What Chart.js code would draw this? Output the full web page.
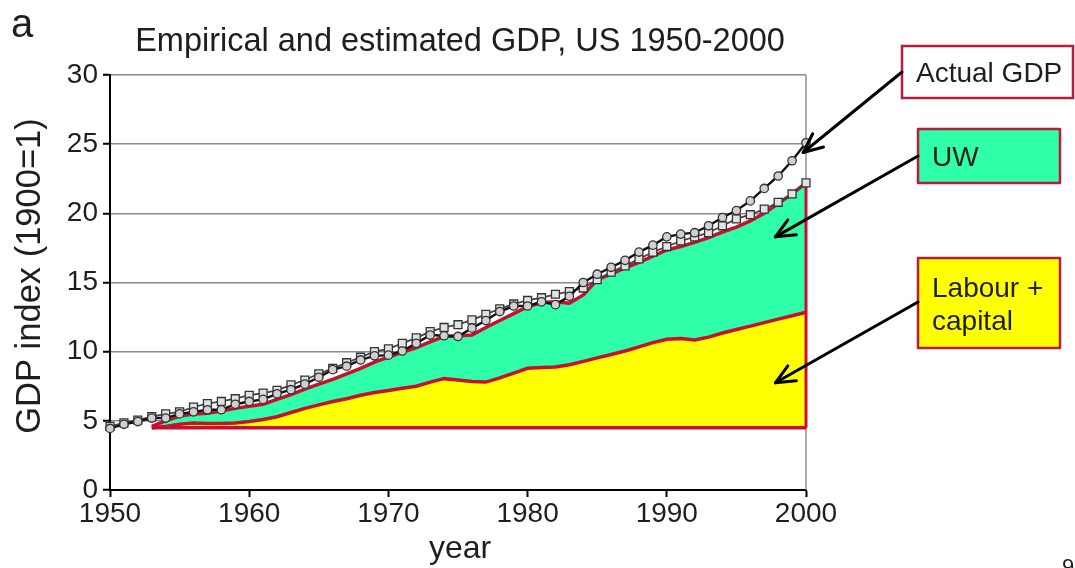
<!DOCTYPE html>
<html>
<head>
<meta charset="utf-8">
<title>Empirical and estimated GDP, US 1950-2000</title>
<script src="https://cdn.jsdelivr.net/npm/chart.js@4/dist/chart.umd.min.js"></script>
<style>
  html, body { margin: 0; padding: 0; background: #fff; }
  canvas { display: block; }
</style>
</head>
<body>
<canvas id="gdp" width="1075" height="568"></canvas>
<script>
// ---- data -------------------------------------------------------------
const years = [1950,1951,1952,1953,1954,1955,1956,1957,1958,1959,
               1960,1961,1962,1963,1964,1965,1966,1967,1968,1969,
               1970,1971,1972,1973,1974,1975,1976,1977,1978,1979,
               1980,1981,1982,1983,1984,1985,1986,1987,1988,1989,
               1990,1991,1992,1993,1994,1995,1996,1997,1998,1999,2000];

// Actual GDP index (1900 = 1)
const actualGdp = [4.45,4.75,4.95,5.2,5.2,5.5,5.65,5.8,5.8,6.2,
                   6.4,6.55,6.95,7.25,7.65,8.15,8.7,8.95,9.4,9.7,
                   9.75,10.05,10.6,11.2,11.15,11.1,11.7,12.25,12.9,13.3,
                   13.3,13.6,13.4,14.0,15.0,15.6,16.1,16.6,17.2,17.7,
                   18.3,18.5,18.6,19.1,19.7,20.2,20.9,21.8,22.7,23.8,25.1];

// Estimated GDP index (1900 = 1)
const estimatedGdp = [4.6,4.85,5.05,5.3,5.5,5.65,6.0,6.25,6.4,6.6,
                      6.85,7.0,7.2,7.6,7.95,8.4,8.8,9.2,9.6,10.0,
                      10.2,10.6,11.0,11.45,11.75,11.95,12.3,12.7,13.1,13.45,
                      13.7,13.9,14.15,14.35,14.6,15.2,15.75,16.2,16.7,17.2,
                      17.6,18.0,18.3,18.6,19.1,19.6,19.9,20.3,20.8,21.4,22.2];

// Decomposition of the estimate, stacked on the 1950 level
const areaYears = [1953,1954,1955,1956,1957,1958,1959,
                   1960,1961,1962,1963,1964,1965,1966,1967,1968,1969,
                   1970,1971,1972,1973,1974,1975,1976,1977,1978,1979,
                   1980,1981,1982,1983,1984,1985,1986,1987,1988,1989,
                   1990,1991,1992,1993,1994,1995,1996,1997,1998,1999,2000];
const labourCapital = [4.5,4.6,4.75,4.85,4.8,4.8,4.85,
                       4.95,5.1,5.3,5.6,5.9,6.15,6.4,6.6,6.85,7.05,
                       7.2,7.35,7.5,7.8,8.05,7.95,7.85,7.8,8.1,8.45,
                       8.8,8.85,8.9,9.05,9.3,9.55,9.8,10.05,10.35,10.65,
                       10.9,10.95,10.85,11.05,11.35,11.6,11.85,12.1,12.35,12.6,12.85];
const labourCapitalUw = [4.6,5.0,5.35,5.5,5.55,5.7,5.9,
                         6.05,6.2,6.55,6.9,7.3,7.65,8.0,8.4,8.8,9.25,
                         9.6,9.95,10.3,10.7,11.1,11.15,11.2,11.75,12.25,12.75,
                         13.25,13.55,13.6,13.5,14.1,15.2,15.6,16.05,16.45,16.9,
                         17.35,17.6,17.9,18.25,18.65,19.0,19.45,20.0,20.7,21.4,22.2];
const areaBase = 4.5;

const xTicks = [1950,1960,1970,1980,1990,2000];
const yTicks = [0,5,10,15,20,25,30];

// ---- styling ----------------------------------------------------------
const FONT = "'Liberation Sans', Arial, Helvetica, sans-serif";
const RED = '#c8102e';
const BOX_RED = '#b81c3a';
const GREEN = '#2effa8';
const YELLOW = '#ffff00';
const TEXT = '#1e1e1e';

const pts = (xs, ys) => xs.map((x, i) => ({ x, y: ys[i] }));
const lastArea = labourCapitalUw[labourCapitalUw.length - 1];
const firstAreaYear = areaYears[0];
const lastAreaYear = areaYears[areaYears.length - 1];

// Callout boxes on the right; arrow tips given in data units.
const callouts = [
  { lines: ['Actual GDP'], box: [902, 46, 171, 52], fill: '#ffffff',
    from: [902, 72], tip: { x: 1999.8, y: 24.4 } },
  { lines: ['UW'], box: [918, 129, 142, 54], fill: GREEN,
    from: [918, 156], tip: { x: 1997.8, y: 18.3 } },
  { lines: ['Labour +', 'capital'], box: [918, 258, 142, 90], fill: YELLOW,
    from: [918, 302], tip: { x: 1997.8, y: 7.75 } }
];

const decorations = {
  id: 'decorations',
  beforeDatasetsDraw(chart) {
    const { ctx, chartArea: a } = chart;
    ctx.save();
    ctx.strokeStyle = '#8f8f8f';
    ctx.lineWidth = 1.5;
    ctx.beginPath();
    ctx.moveTo(a.right, a.top);
    ctx.lineTo(a.right, a.bottom);
    ctx.stroke();
    ctx.restore();
  },
  afterDraw(chart) {
    const { ctx, chartArea: a, scales } = chart;
    ctx.save();
    ctx.fillStyle = TEXT;

    // panel letter
    ctx.font = `40px ${FONT}`;
    ctx.textAlign = 'left';
    ctx.textBaseline = 'alphabetic';
    ctx.fillText('a', 11, 37);

    // chart title
    ctx.font = `32.5px ${FONT}`;
    ctx.textAlign = 'center';
    ctx.fillText('Empirical and estimated GDP, US 1950-2000', (a.left + a.right) / 2 + 2, 51);

    // axis titles
    ctx.font = `32px ${FONT}`;
    ctx.fillText('year', (a.left + a.right) / 2 + 2, 558);
    ctx.save();
    ctx.translate(40, 276);
    ctx.rotate(-Math.PI / 2);
    ctx.font = `34.5px ${FONT}`;
    ctx.fillText('GDP index (1900=1)', 0, 0);
    ctx.restore();

    // page number cut by the lower edge
    ctx.font = `22px ${FONT}`;
    ctx.textAlign = 'left';
    ctx.fillText('9', 1062, 574);

    // callouts
    callouts.forEach(c => {
      const [bx, by, bw, bh] = c.box;
      ctx.fillStyle = c.fill;
      ctx.fillRect(bx, by, bw, bh);
      ctx.strokeStyle = BOX_RED;
      ctx.lineWidth = 2.5;
      ctx.strokeRect(bx, by, bw, bh);

      ctx.fillStyle = TEXT;
      ctx.font = `28px ${FONT}`;
      ctx.textAlign = 'left';
      if (c.lines.length === 1) {
        ctx.fillText(c.lines[0], bx + 14, by + bh / 2 + 10);
      } else {
        ctx.fillText(c.lines[0], bx + 14, by + 39);
        ctx.fillText(c.lines[1], bx + 14, by + 72);
      }

      const tx = scales.x.getPixelForValue(c.tip.x);
      const ty = scales.y.getPixelForValue(c.tip.y);
      const [fx, fy] = c.from;
      ctx.strokeStyle = '#000';
      ctx.lineWidth = 3;
      ctx.lineCap = 'round';
      ctx.lineJoin = 'round';
      ctx.beginPath();
      ctx.moveTo(fx, fy);
      ctx.lineTo(tx, ty);
      ctx.stroke();
      const ang = Math.atan2(ty - fy, tx - fx);
      const len = 21, spread = 0.42;
      ctx.beginPath();
      ctx.moveTo(tx - len * Math.cos(ang - spread), ty - len * Math.sin(ang - spread));
      ctx.lineTo(tx, ty);
      ctx.lineTo(tx - len * Math.cos(ang + spread), ty - len * Math.sin(ang + spread));
      ctx.stroke();
    });
    ctx.restore();
  }
};

new Chart(document.getElementById('gdp'), {
  type: 'line',
  data: {
    datasets: [
      {
        label: 'Actual GDP',
        data: pts(years, actualGdp),
        borderColor: '#111',
        borderWidth: 2.4,
        pointStyle: 'circle',
        pointRadius: 4.2,
        pointBackgroundColor: '#d0d0d0',
        pointBorderColor: '#333',
        pointBorderWidth: 1.3,
        fill: false,
        clip: false
      },
      {
        label: 'Estimated GDP',
        data: pts(years, estimatedGdp),
        borderColor: '#444',
        borderWidth: 1.8,
        pointStyle: 'rect',
        pointRadius: 5.6,
        pointBackgroundColor: '#e2e2e2',
        pointBorderColor: '#333',
        pointBorderWidth: 1.3,
        fill: false,
        clip: false
      },
      {
        label: 'base',
        data: [{ x: firstAreaYear, y: areaBase }, { x: lastAreaYear, y: areaBase }],
        borderColor: RED,
        borderWidth: 3.5,
        pointRadius: 0,
        fill: false,
        clip: false
      },
      {
        label: 'edge',
        data: [{ x: lastAreaYear, y: areaBase }, { x: lastAreaYear, y: lastArea }],
        borderColor: RED,
        borderWidth: 3,
        pointRadius: 0,
        fill: false,
        clip: false
      },
      {
        label: 'Labour + capital',
        data: pts(areaYears, labourCapital),
        borderColor: RED,
        borderWidth: 3.5,
        backgroundColor: YELLOW,
        pointRadius: 0,
        fill: { value: areaBase },
        clip: false
      },
      {
        label: 'UW',
        data: pts(areaYears, labourCapitalUw),
        borderColor: RED,
        borderWidth: 3.5,
        backgroundColor: GREEN,
        pointRadius: 0,
        fill: '-1',
        clip: false
      }
    ]
  },
  options: {
    responsive: false,
    animation: false,
    devicePixelRatio: 1,
    layout: { padding: { top: 75, right: 269, bottom: 0, left: 0 } },
    plugins: {
      legend: { display: false },
      tooltip: { enabled: false },
      title: { display: false }
    },
    elements: { line: { tension: 0 } },
    scales: {
      x: {
        type: 'linear',
        min: 1950,
        max: 2000,
        afterBuildTicks: s => { s.ticks = xTicks.map(v => ({ value: v })); },
        afterFit: s => { s.height = 78; },
        ticks: {
          font: { family: FONT, size: 28 },
          color: TEXT,
          padding: 0,
          maxRotation: 0,
          callback: v => String(v)
        },
        grid: { drawOnChartArea: false, drawTicks: true, tickLength: 7, tickColor: '#000', tickWidth: 2 },
        border: { color: '#000', width: 2 }
      },
      y: {
        min: 0,
        max: 30,
        afterBuildTicks: s => { s.ticks = yTicks.map(v => ({ value: v })); },
        afterFit: s => { s.width = 110; },
        ticks: {
          font: { family: FONT, size: 28 },
          color: TEXT,
          padding: 5
        },
        grid: { color: '#8a8a8a', lineWidth: 1.5, drawTicks: true, tickLength: 7, tickColor: '#000', tickWidth: 2 },
        border: { color: '#000', width: 2 }
      }
    }
  },
  plugins: [decorations]
});
</script>
</body>
</html>
